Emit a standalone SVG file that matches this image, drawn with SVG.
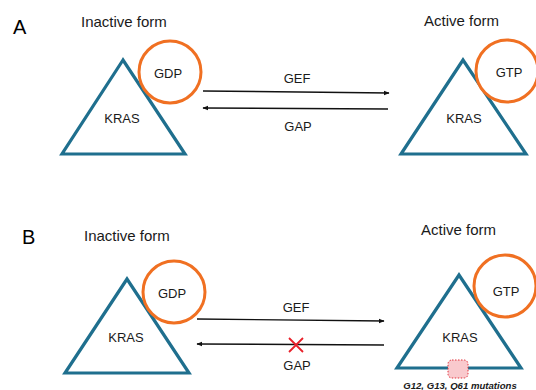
<svg xmlns="http://www.w3.org/2000/svg" width="536" height="390" viewBox="0 0 536 390">
<defs>
<style>
.t{font-family:"Liberation Sans",Arial,sans-serif;fill:#1a1a1a;}
.lab{font-size:13px;text-anchor:middle;}
.title{font-size:15px;}
.pl{font-size:20px;fill:#000;}
.tri{fill:#fff;stroke:#1F6F8E;stroke-width:3.2;stroke-linejoin:miter;}
.nuc{fill:#fff;stroke:#F07022;stroke-width:3;}
.arr{stroke:#111;stroke-width:1.4;fill:none;}
</style>
<marker id="ah" viewBox="0 0 10 10" refX="9" refY="5" markerWidth="6" markerHeight="6" orient="auto-start-reverse" markerUnits="userSpaceOnUse">
<path d="M0,1 L10,5 L0,9 z" fill="#111"/>
</marker>
</defs>
<rect width="536" height="390" fill="#fff"/>
<text class="t pl" x="13" y="34">A</text>
<text class="t title" x="81" y="27">Inactive form</text>
<text class="t title" x="424" y="26">Active form</text>
<text class="t pl" x="22" y="244">B</text>
<text class="t title" x="84" y="241">Inactive form</text>
<text class="t title" x="421" y="235">Active form</text>

<g id="kras-a-inactive">
<polygon class="tri" points="123,60 62,154 185,154"/>
<text class="t lab" x="122" y="123">KRAS</text>
</g>
<g id="gdp-a">
<circle class="nuc" cx="170" cy="72" r="31"/>
<text class="t lab" x="168" y="78">GDP</text>
</g>
<g id="kras-a-active">
<polygon class="tri" points="463,60 401,154 526,154"/>
<text class="t lab" x="464" y="123">KRAS</text>
</g>
<g id="gtp-a">
<circle class="nuc" cx="507" cy="71" r="31"/>
<text class="t lab" x="509" y="77">GTP</text>
</g>

<g id="kras-b-inactive">
<polygon class="tri" points="127,279 65,373 189,373"/>
<text class="t lab" x="126" y="342">KRAS</text>
</g>
<g id="gdp-b">
<circle class="nuc" cx="174" cy="292" r="31"/>
<text class="t lab" x="172" y="298">GDP</text>
</g>
<g id="kras-b-active">
<polygon class="tri" points="459,275 397,368 521,368"/>
<text class="t lab" x="460" y="342">KRAS</text>
<rect x="448" y="360" width="20" height="18" rx="4" fill="#F9C9CD" stroke="#E0303A" stroke-width="1" stroke-dasharray="1.5,1.5"/>
<text class="t" x="460" y="389" font-size="9.6" font-weight="bold" font-style="italic" text-anchor="middle" fill="#333">G12, G13, Q61 mutations</text>
</g>
<g id="gtp-b">
<circle class="nuc" cx="505" cy="286" r="31"/>
<text class="t lab" x="506" y="296">GTP</text>
</g>

<g id="connectors">
<line class="arr" x1="203" y1="91" x2="389" y2="93" marker-end="url(#ah)"/>
<line class="arr" x1="388" y1="109" x2="203" y2="108" marker-end="url(#ah)"/>
<text class="t lab" x="297" y="83">GEF</text>
<text class="t lab" x="298" y="131">GAP</text>
<line class="arr" x1="197" y1="319" x2="384" y2="321" marker-end="url(#ah)"/>
<line class="arr" x1="384" y1="345" x2="197" y2="344" marker-end="url(#ah)" stroke="#444"/>
<text class="t lab" x="296" y="312">GEF</text>
<text class="t lab" x="297" y="370">GAP</text>
<path d="M289,338 L303,352 M303,338 L289,352" stroke="#E8202A" stroke-width="1.8" fill="none"/>
</g>
</svg>
